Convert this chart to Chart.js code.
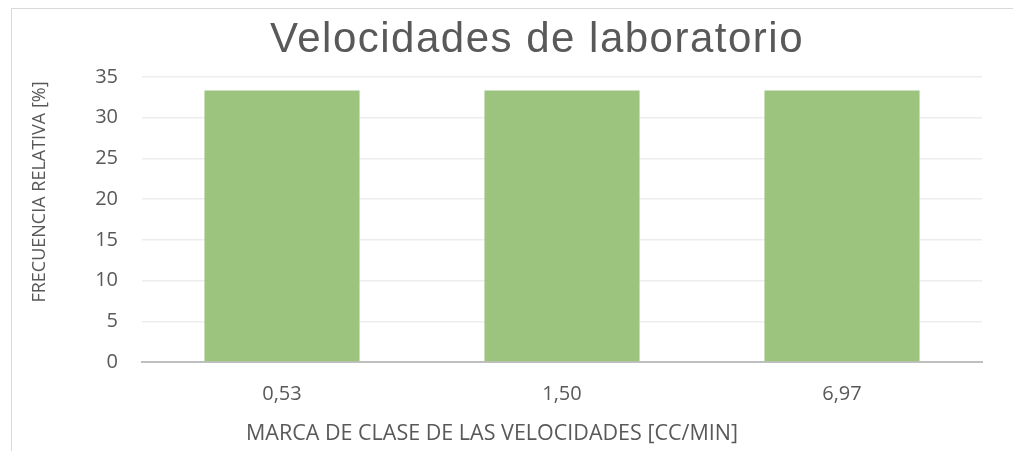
<!DOCTYPE html>
<html>
<head>
<meta charset="utf-8">
<script src="https://cdn.jsdelivr.net/npm/chart.js@4"></script>
<style>
  html, body { margin: 0; padding: 0; background: #fff; }
  #wrap { width: 1013px; height: 451px; }
</style>
</head>
<body>
<div id="wrap"><canvas id="chart"></canvas></div>
<script>
const categories = ['0,53', '1,50', '6,97'];
const frecuencia = [33.33, 33.33, 33.33];
const yTicks = [0, 5, 10, 15, 20, 25, 30, 35];

const chartTitle = 'Velocidades de laboratorio';
const xTitle = 'MARCA DE CLASE DE LAS VELOCIDADES [CC/MIN]';
const yTitle = 'FRECUENCIA RELATIVA [%]';

const textColor = '#595959';

// frame, title and axis titles, placed like the original sheet
const decor = {
  id: 'decor',
  beforeDraw(chart) {
    const ctx = chart.ctx;
    ctx.save();
    ctx.fillStyle = '#fff';
    ctx.fillRect(0, 0, chart.width, chart.height);
    ctx.strokeStyle = '#d9d9d9';
    ctx.lineWidth = 1;
    ctx.strokeRect(11.5, 8.5, 1010, 460);
    ctx.restore();
  },
  afterDraw(chart) {
    const ctx = chart.ctx;
    ctx.save();
    ctx.fillStyle = textColor;
    ctx.textAlign = 'center';

    ctx.textBaseline = 'alphabetic';
    ctx.font = '42px "Liberation Sans", Arial, sans-serif';
    ctx.letterSpacing = '1.5px';
    ctx.fillText(chartTitle, 537, 52);
    ctx.letterSpacing = '0px';

    ctx.textBaseline = 'middle';
    ctx.font = '21.5px "Open Sans"';
    ctx.fillText(xTitle, 492, 434);

    ctx.translate(40, 192);
    ctx.rotate(-Math.PI / 2);
    ctx.font = '18px "Open Sans"';
    ctx.fillText(yTitle, 0, 0);
    ctx.restore();
  }
};

new Chart(document.getElementById('chart'), {
  type: 'bar',
  data: {
    labels: categories,
    datasets: [{
      label: 'Frecuencia relativa',
      data: frecuencia,
      backgroundColor: 'rgb(156, 196, 127)',
      barPercentage: 0.554,
      categoryPercentage: 1
    }]
  },
  options: {
    responsive: true,
    maintainAspectRatio: false,
    animation: false,
    layout: { padding: { left: 60, right: 31, top: 77, bottom: 0 } },
    plugins: {
      legend: { display: false },
      tooltip: { enabled: false },
      title: { display: false }
    },
    scales: {
      x: {
        grid: { display: false, drawTicks: false },
        border: { color: '#bfbfbf', width: 2 },
        ticks: { color: textColor, font: { family: '"Open Sans"', size: 20 }, padding: 20 },
        afterFit(scale) { scale.height = 89; }
      },
      y: {
        min: 0,
        max: 35,
        afterBuildTicks(scale) { scale.ticks = yTicks.map(v => ({ value: v })); },
        grid: { color: '#ededed', lineWidth: 1.5, drawTicks: false },
        border: { display: false },
        ticks: { color: textColor, font: { family: '"Open Sans"', size: 20 }, padding: 24 },
        afterFit(scale) { scale.width = 82; }
      }
    }
  },
  plugins: [decor]
});
</script>
</body>
</html>
